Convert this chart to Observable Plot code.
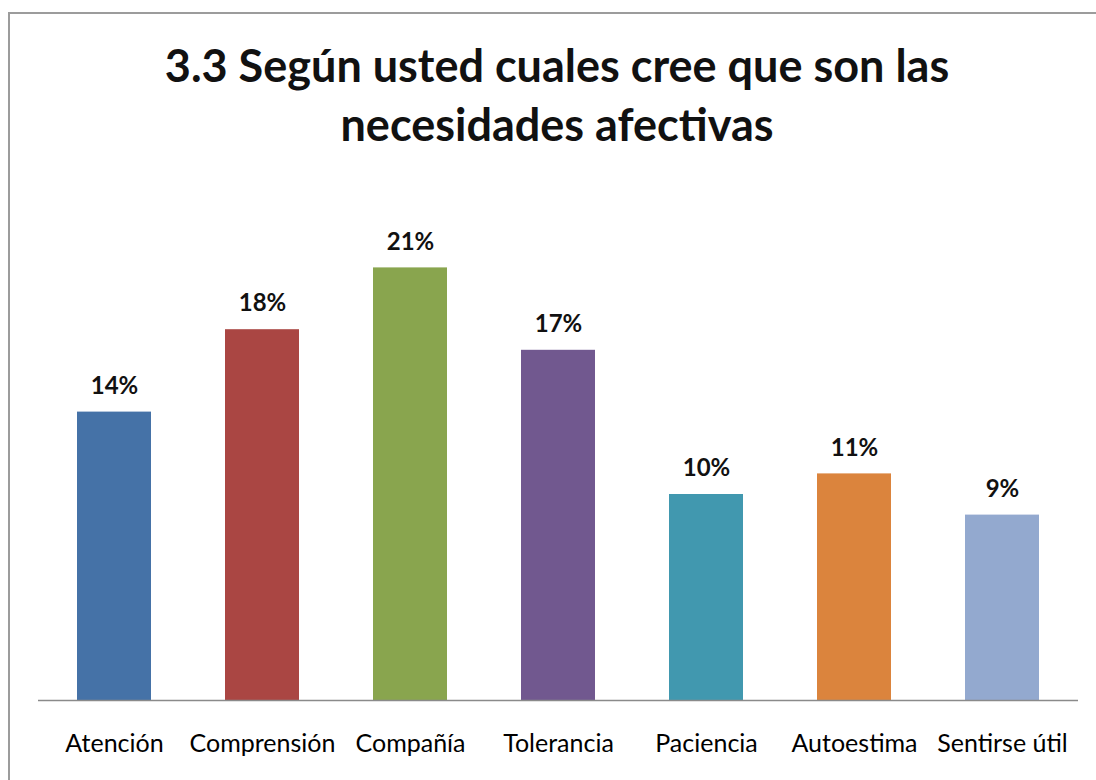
<!DOCTYPE html>
<html>
<head>
<meta charset="utf-8">
<script src="https://cdn.jsdelivr.net/npm/d3@7"></script>
<script src="https://cdn.jsdelivr.net/npm/@observablehq/plot@0.6"></script>
<style>
  html, body { margin: 0; padding: 0; background: #fff; }
  #wrap { position: relative; width: 1096px; height: 780px; overflow: hidden; background: #fff; }
  #frame { position: absolute; left: 8px; top: 12px; width: 1300px; height: 1000px;
           border-left: 2px solid #9c9c9c; border-top: 2px solid #9c9c9c; }
  #title { position: absolute; left: 18px; top: 36px; width: 1078px; text-align: center;
           font-family: Lato, "Open Sans", sans-serif; font-weight: 700; font-size: 45px;
           line-height: 59px; color: #111; }
  #chart { position: absolute; left: 0; top: 160px; }
</style>
</head>
<body>
<div id="wrap">
  <div id="frame"></div>
  <div id="chart"></div>
  <div id="title">3.3 Según usted cuales cree que son las<br>necesidades afectivas</div>
</div>
<script>
const categories = ["Atención", "Comprensión", "Compañía", "Tolerancia", "Paciencia", "Autoestima", "Sentirse útil"];
const values = [14, 18, 21, 17, 10, 11, 9];
const valueLabels = ["14%", "18%", "21%", "17%", "10%", "11%", "9%"];
const colors = ["#4572A7", "#AA4643", "#89A54E", "#71588F", "#4198AF", "#DB843D", "#93A9CF"];

const data = categories.map((c, i) => ({category: c, value: values[i], label: valueLabels[i]}));

const chart = Plot.plot({
  width: 1096,
  height: 620,
  marginTop: 25,
  marginBottom: 80,
  marginLeft: 38,
  marginRight: 18,
  style: {fontFamily: "Lato, 'Open Sans', sans-serif", background: "transparent", color: "#111"},
  x: {domain: categories, paddingInner: 0.5, paddingOuter: 0.25, label: null},
  y: {domain: [0, 25], axis: null},
  color: {domain: categories, range: colors},
  marks: [
    Plot.barY(data, {x: "category", y: "value", fill: "category"}),
    Plot.ruleY([0], {stroke: "#8a8a8a", strokeWidth: 1.5}),
    Plot.text(data, {x: "category", y: "value", text: "label", dy: -26, fontSize: 24, fontWeight: "bold", fill: "#111"}),
    Plot.axisX({tickSize: 0, tickPadding: 34, fontSize: 25, label: null, fill: "#000"})
  ]
});
document.getElementById("chart").appendChild(chart);
</script>
</body>
</html>
